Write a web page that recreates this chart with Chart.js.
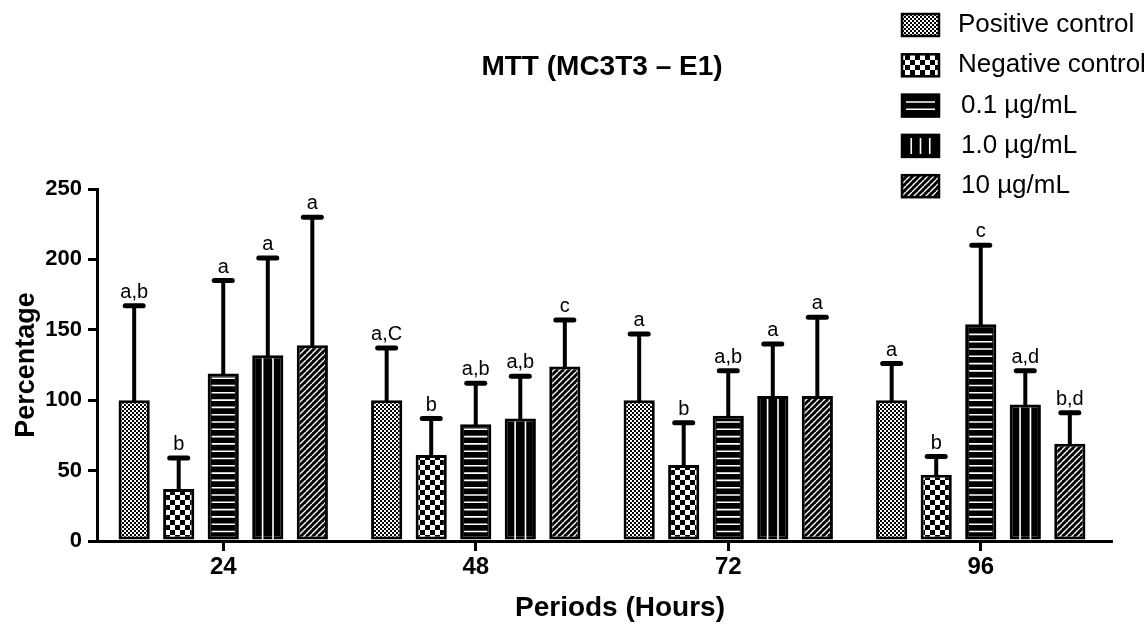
<!DOCTYPE html>
<html lang="en">
<head>
<meta charset="UTF-8">
<title>MTT (MC3T3 – E1)</title>
<script src="https://cdn.jsdelivr.net/npm/chart.js@4.4.1/dist/chart.umd.min.js"></script>
<style>
    body { margin: 0; background: #fff; }
    canvas { display: block; }
</style>
</head>
<body>
<canvas id="myChart" width="1146" height="625"></canvas>
<script>
    // periods on the x axis
    var periods = ['24', '48', '72', '96'];
    var groupNames = ['Positive control', 'Negative control', '0.1 µg/mL', '1.0 µg/mL', '10 µg/mL'];

    // mean percentage per period
    var positive = [100, 100, 100, 100];
    var negative = [37, 61, 54, 47];
    var dose01 = [119, 83, 89, 154];
    var dose10 = [132, 87, 103, 97];
    var dose100 = [139, 124, 103, 69];

    // standard deviation (only upper bar shown)
    var positiveSd = [67, 37, 47, 26];
    var negativeSd = [22, 26, 30, 13];
    var dose01Sd = [66, 29, 32, 56];
    var dose10Sd = [69, 30, 37, 24];
    var dose100Sd = [91, 33, 56, 22];

    // significance letters above each bar
    var positiveLetters = ['a,b', 'a,C', 'a', 'a'];
    var negativeLetters = ['b', 'b', 'b', 'b'];
    var dose01Letters = ['a', 'a,b', 'a,b', 'c'];
    var dose10Letters = ['a', 'a,b', 'a', 'a,d'];
    var dose100Letters = ['a', 'c', 'a', 'b,d'];

    var yTicks = [0, 50, 100, 150, 200, 250];

    var FONT = "'Liberation Sans', Arial, sans-serif";
    Chart.defaults.font.family = FONT;
    Chart.defaults.color = '#000';

    var canvas = document.getElementById('myChart');
    var ctx = canvas.getContext('2d');

    function makePattern(size, draw) {
        var c = document.createElement('canvas');
        c.width = size;
        c.height = size;
        draw(c.getContext('2d'), size);
        return ctx.createPattern(c, 'repeat');
    }

    var dots = makePattern(4, function (g) {
        g.fillStyle = '#fff';
        g.fillRect(0, 0, 4, 4);
        g.fillStyle = '#000';
        g.fillRect(0, 0, 2, 2);
        g.fillRect(2, 2, 2, 2);
    });
    var checks = makePattern(10, function (g) {
        g.fillStyle = '#fff';
        g.fillRect(0, 0, 10, 10);
        g.fillStyle = '#000';
        g.fillRect(0, 0, 5, 5);
        g.fillRect(5, 5, 5, 5);
    });
    var hatch = makePattern(6, function (g) {
        g.fillStyle = '#000';
        g.fillRect(0, 0, 6, 6);
        g.strokeStyle = '#fff';
        g.lineWidth = 1.4;
        g.beginPath();
        [-6, 0, 6].forEach(function (o) {
            g.moveTo(o, 6);
            g.lineTo(o + 6, 0);
        });
        g.stroke();
    });

    var means = [positive, negative, dose01, dose10, dose100];
    var sds = [positiveSd, negativeSd, dose01Sd, dose10Sd, dose100Sd];
    var letters = [positiveLetters, negativeLetters, dose01Letters, dose10Letters, dose100Letters];
    var fills = [dots, checks, '#000', '#000', hatch];

    // white lines inside the 0.1 and 1.0 bars
    function barLines(c, idx, left, top, right, bottom, legend) {
        c.save();
        c.strokeStyle = '#fff';
        c.lineWidth = 1.6;
        c.beginPath();
        var w = right - left, h = bottom - top, k, y, x;
        if (idx === 2) {
            if (legend) {
                for (k = 1; k <= 2; k++) {
                    y = top + h * k / 3;
                    c.moveTo(left + 4, y); c.lineTo(right - 4, y);
                }
            } else {
                for (y = bottom - 8; y > top + 4; y -= 7.3) {
                    c.moveTo(left + 4, y); c.lineTo(right - 4, y);
                }
            }
        } else if (idx === 3) {
            var n = legend ? 3 : 2;
            for (k = 1; k <= n; k++) {
                x = left + w * k / (n + 1);
                c.moveTo(x, top + 3); c.lineTo(x, bottom - (legend ? 3 : 0));
            }
        }
        c.stroke();
        c.restore();
    }

    var decorations = {
        id: 'decorations',
        afterDatasetsDraw: function (chart) {
            var c = chart.ctx;
            var yScale = chart.scales.y;
            chart.data.datasets.forEach(function (ds, i) {
                var meta = chart.getDatasetMeta(i);
                meta.data.forEach(function (el, j) {
                    var left = el.x - el.width / 2, right = el.x + el.width / 2;
                    barLines(c, i, left, el.y, right, el.base, false);

                    var yErr = yScale.getPixelForValue(ds.data[j] + sds[i][j]);
                    c.save();
                    c.strokeStyle = '#000';
                    c.lineCap = 'round';
                    c.lineWidth = 4;
                    c.beginPath();
                    c.moveTo(el.x, el.y);
                    c.lineTo(el.x, yErr);
                    c.stroke();
                    c.lineWidth = 5;
                    c.beginPath();
                    c.moveTo(el.x - 9, yErr);
                    c.lineTo(el.x + 9, yErr);
                    c.stroke();

                    c.fillStyle = '#000';
                    c.font = '20px ' + FONT;
                    c.textAlign = 'center';
                    c.textBaseline = 'alphabetic';
                    c.fillText(letters[i][j], el.x, yErr - 8);
                    c.restore();
                });
            });
        },
        afterDraw: function (chart) {
            var c = chart.ctx;
            var area = chart.chartArea;
            c.save();
            // x axis line runs a little past the last group
            c.strokeStyle = '#000';
            c.lineWidth = 3;
            c.beginPath();
            c.moveTo(area.right, area.bottom + 0.5);
            c.lineTo(area.right + 6, area.bottom + 0.5);
            c.stroke();
            // legend, top right
            chart.data.datasets.forEach(function (ds, i) {
                var cy = 25 + i * 40.3;
                var x0 = 902, w = 37, h = 22;
                c.fillStyle = ds.backgroundColor;
                c.fillRect(x0, cy - h / 2, w, h);
                barLines(c, i, x0, cy - h / 2, x0 + w, cy + h / 2, true);
                c.strokeStyle = '#000';
                c.lineWidth = 2.5;
                c.strokeRect(x0, cy - h / 2, w, h);
                c.fillStyle = '#000';
                c.font = '26px ' + FONT;
                c.textAlign = 'left';
                c.textBaseline = 'middle';
                c.fillText(ds.label, i < 2 ? 958 : 961, cy);
            });
            // x axis title
            c.font = 'bold 28px ' + FONT;
            c.textAlign = 'center';
            c.textBaseline = 'middle';
            c.fillText('Periods (Hours)', 620, 608);
            c.restore();
        }
    };

    var chart = new Chart(ctx, {
        type: 'bar',
        data: {
            labels: periods,
            datasets: groupNames.map(function (name, i) {
                return {
                    label: name,
                    data: means[i],
                    backgroundColor: fills[i],
                    borderColor: '#000',
                    borderWidth: 3,
                    borderSkipped: false,
                    categoryPercentage: 0.882,
                    barPercentage: 0.70
                };
            })
        },
        options: {
            responsive: false,
            animation: false,
            layout: { padding: { left: 0, right: 39, top: 0, bottom: 0 } },
            plugins: {
                legend: { display: false },
                tooltip: { enabled: false },
                title: {
                    display: true,
                    text: 'MTT (MC3T3 – E1)',
                    color: '#000',
                    fullSize: false,
                    font: { size: 28, weight: 'bold' },
                    padding: { top: 50, bottom: 105.4 }
                }
            },
            scales: {
                x: {
                    offset: true,
                    grid: { offset: false, drawOnChartArea: false, tickLength: 10, color: '#000', lineWidth: 3 },
                    border: { color: '#000', width: 3 },
                    ticks: { color: '#000', font: { size: 24, weight: 'bold' }, padding: 2, maxRotation: 0 },
                    afterFit: function (s) { s.height = 84; }
                },
                y: {
                    min: 0,
                    max: 250,
                    afterBuildTicks: function (s) {
                        s.ticks = yTicks.map(function (v) { return { value: v }; });
                    },
                    grid: { drawOnChartArea: false, tickLength: 9, color: '#000', lineWidth: 3 },
                    border: { color: '#000', width: 3 },
                    ticks: { color: '#000', font: { size: 22, weight: 'bold' }, padding: 6 },
                    title: {
                        display: true,
                        text: 'Percentage',
                        color: '#000',
                        font: { size: 27, weight: 'bold' },
                        padding: { top: 10, bottom: 0 }
                    },
                    afterFit: function (s) { s.width = 97; }
                }
            }
        },
        plugins: [decorations]
    });
</script>
</body>
</html>
